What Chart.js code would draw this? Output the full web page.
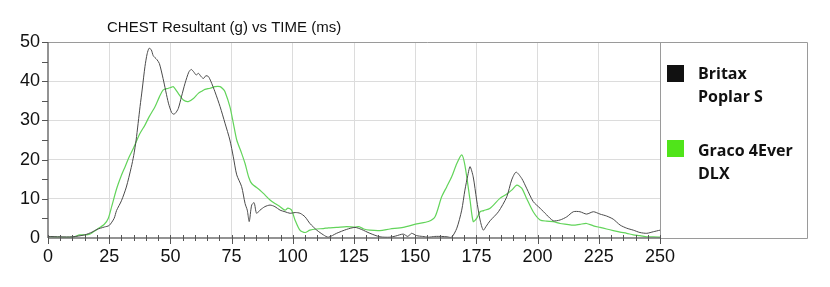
<!DOCTYPE html>
<html>
<head>
<meta charset="utf-8">
<script src="https://cdn.jsdelivr.net/npm/chart.js@4"></script>
<style>
    body { margin: 0; background: #fff; }
    #wrap { position: relative; width: 830px; height: 287px; }
    .legend-item { position: absolute; left: 667px; font-family: 'Open Sans', sans-serif; font-weight: 700; font-size: 16px; line-height: 23px; color: #111; }
    .legend-item .swatch { position: absolute; left: 0; width: 17px; height: 17px; }
    .legend-item .label { position: absolute; left: 31px; width: 110px; }
</style>
</head>
<body>
<div id="wrap">
    <canvas id="chart" width="830" height="287"></canvas>
    <div class="legend-item" style="top:0">
        <div class="swatch" style="top:65px;background:#111"></div>
        <div class="label" style="top:62px">Britax<br>Poplar S</div>
    </div>
    <div class="legend-item" style="top:0">
        <div class="swatch" style="top:140px;background:#50e41a"></div>
        <div class="label" style="top:139px">Graco 4Ever<br>DLX</div>
    </div>
</div>
<script>
// Chart title and series names
const chartTitle = 'CHEST Resultant (g) vs TIME (ms)';
const seriesNames = ['Britax Poplar S', 'Graco 4Ever DLX'];

// Axis tick values
const xTicks = [0, 25, 50, 75, 100, 125, 150, 175, 200, 225, 250];
const yTicks = [0, 10, 20, 30, 40, 50];

// Britax Poplar S - time (ms) and chest resultant (g)
const britaxTime = [0, 5, 10, 15, 18, 20, 23, 25, 27, 28, 30, 32, 34, 35, 36, 37.6, 38.5, 39.6, 40.5, 41.3,
    42.2, 43, 44.5, 45.5, 47, 49.2, 50.5, 51.2, 52, 53.2, 54.5, 56, 57.5, 58.5, 59.5, 60.5, 61.5, 62.5, 63.5, 64.5,
    65.5, 66.5, 68.2, 70.3, 72.3, 74.3, 75.7, 77.1, 79.1, 80.5, 81.4, 82.2, 83.2, 84.2, 85.2, 86.6, 88.6, 90.7, 92.7, 94.8,
    96.8, 98.9, 101, 103, 105, 107, 109.8, 112.5, 114.5, 117.9, 122, 125.4, 128, 131.5, 135.6, 139.7, 142, 145.1, 147, 148.5,
    150.6, 153, 155.4, 158, 160.8, 163, 164.9, 167, 169, 170.3, 171.5, 172.4, 173.7, 175.1, 176.5, 177.8, 179, 180.6, 184, 187.4,
    189.4, 191.2, 193.5, 195.5, 198.2, 201, 203.7, 206.4, 209.2, 211.9, 214.6, 217.3, 220, 222.8, 225.5, 228.2, 230.9, 233.7, 236.4, 239.1,
    241.8, 244.6, 247.3, 250];
const britaxG = [0.4, 0.3, 0.3, 0.8, 1.5, 2.2, 2.8, 3.2, 5, 7, 9.5, 13, 18, 21, 25, 33.5, 38, 43.7, 47, 48.4,
    48, 46.5, 45.5, 44.5, 40.7, 34.4, 32, 31.6, 31.8, 33, 36, 39.5, 42.3, 43, 42.4, 41.6, 42, 41.2, 40.7, 41.4,
    41.2, 40, 37.3, 33.5, 29.3, 25, 20.7, 16.1, 13.1, 8.8, 7.1, 4.2, 8.4, 9, 6.3, 7.1, 8, 8.4, 8, 7.1,
    6.7, 6.3, 6.5, 6.3, 5.4, 3.7, 2, 0.8, 0.2, 1.2, 2.2, 2.7, 2.2, 1.2, 0.3, 0.2, 0.5, 1, 0.4, 1.2,
    0.6, 0.4, 0.2, 0.4, 0.4, 0.3, 0.2, 2.5, 7.1, 12.2, 16, 18.2, 15.6, 9.7, 4.6, 2, 3, 4.4, 6.7, 10.5,
    14.8, 16.8, 15.2, 12.7, 9.3, 7.6, 5.9, 4.4, 4.6, 5.4, 6.7, 6.7, 6.1, 6.7, 6.1, 5.6, 4.8, 3.3, 2.5, 2,
    1.4, 1.2, 1.6, 2];

// Graco 4Ever DLX - time (ms) and chest resultant (g)
const gracoTime = [0, 5, 10, 13, 15, 17, 20, 23, 24.6, 26, 28, 30, 31.5, 33, 34.9, 36, 37.6, 39.6, 41.3, 43.7,
    45.5, 47.1, 49.2, 50.5, 51.2, 53.2, 55.3, 57.3, 59.4, 61.4, 63, 64.1, 66.2, 68.2, 70.3, 71.5, 72.3, 74.3, 75.7, 77.1,
    79.1, 80.5, 82, 83.2, 86.6, 88.6, 90.7, 92.7, 94.8, 96.8, 98, 99.5, 100.9, 102.9, 105, 107, 109.8, 112.5, 114.5, 117.9,
    122, 125.4, 127, 129, 131.5, 135.6, 139.7, 145.1, 150.6, 155.4, 158.1, 160.8, 162.9, 164.9, 167, 169, 170.3, 172.4, 173.7, 175.1,
    176.5, 178, 180.6, 184.6, 187.4, 189.4, 191.5, 193.5, 195.5, 198.2, 201, 203.7, 206.4, 209.2, 211.9, 214.6, 217.3, 220, 222.8, 225.5,
    228.2, 230.9, 233.7, 236.4, 239.1, 241.8, 244.6, 247.3, 250];
const gracoG = [0.3, 0.2, 0.2, 0.8, 0.8, 1, 2.2, 3.5, 5, 8, 12.5, 16, 18.2, 20.5, 22.9, 24.5, 26.7, 28.8, 30.9, 33.5,
    36, 37.8, 38.2, 38.5, 38.6, 36.9, 35.2, 34.8, 35.6, 36.9, 37.5, 37.9, 38.2, 38.6, 38.6, 38, 37.3, 33.5, 29.3, 25,
    21.6, 19, 15.5, 13.9, 12.2, 11, 9.7, 8.8, 8, 7.1, 7.6, 7.1, 4.6, 2, 1.4, 2, 2.3, 2.4, 2.6, 2.7,
    2.9, 2.8, 2.9, 2.3, 2, 1.9, 2.3, 2.7, 3.6, 4.2, 5.4, 10.5, 13.1, 15.6, 19, 21.2, 18.6, 9.7, 4.2, 5,
    6.7, 7, 7.6, 10.1, 11.2, 12.2, 13.5, 12.7, 10.1, 6.7, 4.6, 4.3, 4.2, 3.7, 3.5, 3.3, 3.5, 3.7, 3.1, 2.7,
    2.3, 1.9, 1.5, 1.2, 0.8, 0.6, 0.3, 0.3, 0.2];

const toPoints = (xs, ys) => xs.map((x, i) => ({ x: x, y: ys[i] }));

// Frame, tick marks and title drawn on top of the scales
const framePlugin = {
    id: 'frame',
    afterDraw(chart) {
        const ctx = chart.ctx;
        const area = chart.chartArea;
        const xs = chart.scales.x;
        const ys = chart.scales.y;
        const boxRight = 807;
        ctx.save();

        // outer box + legend box
        ctx.strokeStyle = '#9a9a9a';
        ctx.lineWidth = 1;
        ctx.beginPath();
        ctx.moveTo(area.left, area.top + 0.5);
        ctx.lineTo(boxRight + 0.5, area.top + 0.5);
        ctx.lineTo(boxRight + 0.5, area.bottom + 0.5);
        ctx.lineTo(area.right, area.bottom + 0.5);
        ctx.moveTo(area.right + 0.5, area.top);
        ctx.lineTo(area.right + 0.5, area.bottom);
        ctx.stroke();

        // axis lines
        ctx.strokeStyle = '#707070';
        ctx.lineWidth = 1.5;
        ctx.beginPath();
        ctx.moveTo(area.left, area.bottom);
        ctx.lineTo(area.right, area.bottom);
        ctx.moveTo(area.left, area.top);
        ctx.lineTo(area.left, area.bottom);
        ctx.stroke();

        // tick marks
        ctx.lineWidth = 1;
        ctx.strokeStyle = '#555';
        ctx.beginPath();
        for (let v = 0; v <= 250; v += 5) {
            const px = Math.round(xs.getPixelForValue(v)) + 0.5;
            const major = v % 25 === 0;
            ctx.moveTo(px, area.bottom - 3);
            ctx.lineTo(px, area.bottom + (major ? 6 : 3));
        }
        for (let v = 5; v <= 50; v += 5) {
            const py = Math.round(ys.getPixelForValue(v)) + 0.5;
            ctx.moveTo(area.left - 6, py);
            ctx.lineTo(area.left, py);
        }
        ctx.stroke();

        // title
        ctx.fillStyle = '#111';
        ctx.font = '15px "Liberation Sans", Arial, sans-serif';
        ctx.textAlign = 'left';
        ctx.textBaseline = 'alphabetic';
        ctx.fillText(chartTitle, 107, 32);
        ctx.restore();
    }
};

const ctx = document.getElementById('chart').getContext('2d');
new Chart(ctx, {
    type: 'line',
    data: {
        datasets: [{
            label: seriesNames[0],
            data: toPoints(britaxTime, britaxG),
            borderColor: '#4a4a4a',
            backgroundColor: '#111',
            borderWidth: 1,
            pointRadius: 0,
            tension: 0.25
        }, {
            label: seriesNames[1],
            data: toPoints(gracoTime, gracoG),
            borderColor: '#62d45a',
            backgroundColor: '#50e41a',
            borderWidth: 1.2,
            pointRadius: 0,
            tension: 0.25
        }]
    },
    options: {
        responsive: false,
        devicePixelRatio: 1,
        animation: false,
        layout: { padding: { top: 42, right: 170, left: 0, bottom: 0 } },
        plugins: {
            legend: { display: false },
            title: { display: false },
            tooltip: { enabled: false }
        },
        scales: {
            x: {
                type: 'linear',
                min: 0,
                max: 250,
                afterFit: scale => { scale.height = 49; },
                afterBuildTicks: scale => { scale.ticks = xTicks.map(v => ({ value: v })); },
                ticks: {
                    autoSkip: false,
                    maxRotation: 0,
                    padding: 8,
                    color: '#111',
                    font: { family: '"Liberation Sans", Arial, sans-serif', size: 18 }
                },
                grid: {
                    drawTicks: false,
                    color: c => (c.tick && c.tick.value > 0 && c.tick.value < 250) ? '#dcdcdc' : 'transparent'
                },
                border: { display: false }
            },
            y: {
                min: 0,
                max: 50,
                afterFit: scale => { scale.width = 48; },
                afterBuildTicks: scale => { scale.ticks = yTicks.map(v => ({ value: v })); },
                ticks: {
                    padding: 8,
                    color: '#111',
                    font: { family: '"Liberation Sans", Arial, sans-serif', size: 18 }
                },
                grid: {
                    drawTicks: false,
                    color: c => (c.tick && c.tick.value > 0 && c.tick.value < 50) ? '#dcdcdc' : 'transparent'
                },
                border: { display: false }
            }
        }
    },
    plugins: [framePlugin]
});
</script>
</body>
</html>
